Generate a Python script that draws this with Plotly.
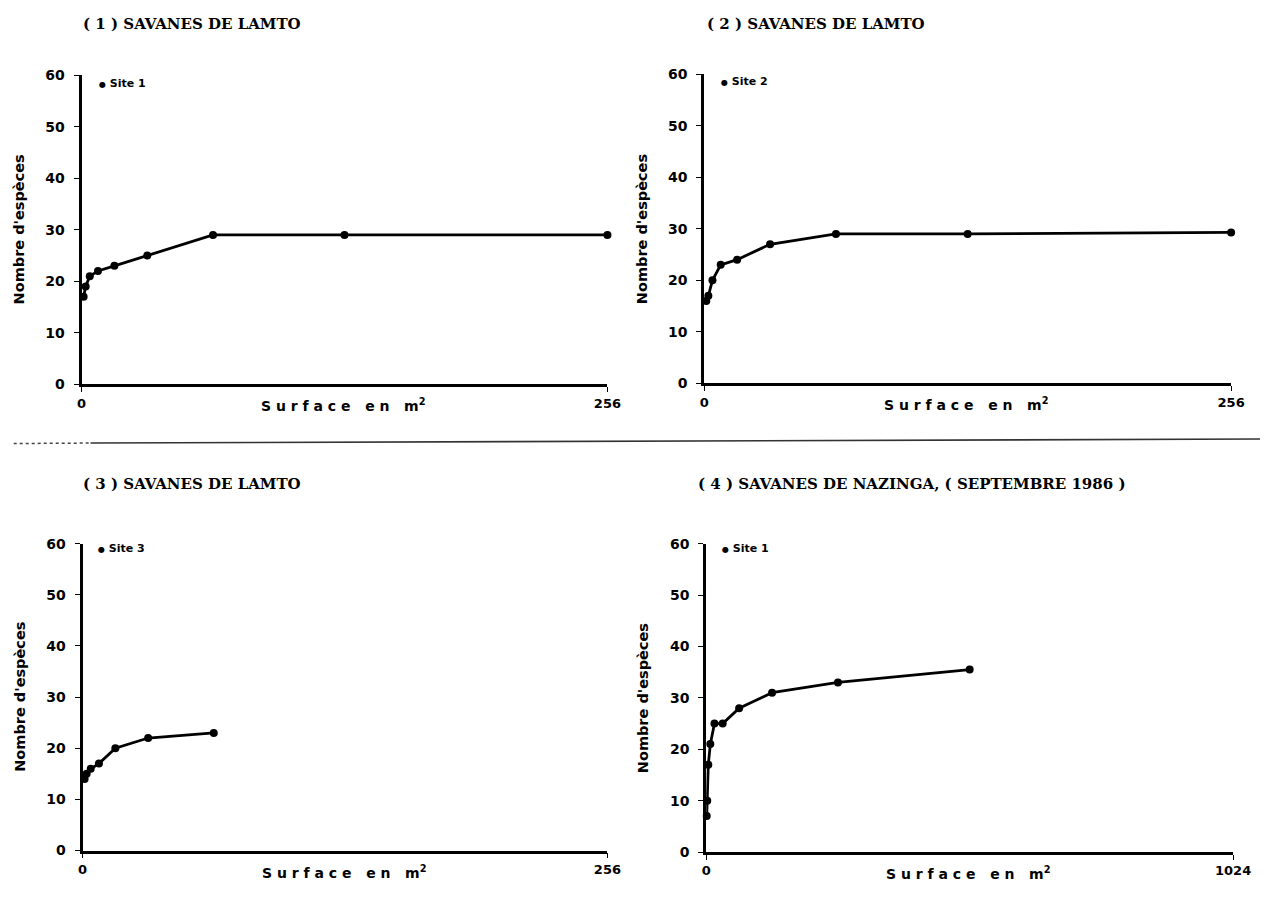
import plotly.graph_objects as go

# ---- data ----
areas_1 = [1, 2, 4, 8, 16, 32, 64, 128, 256]
species_1 = [17, 19, 21, 22, 23, 25, 29, 29, 29]
areas_2 = [1, 2, 4, 8, 16, 32, 64, 128, 256]
species_2 = [16, 17, 20, 23, 24, 27, 29, 29, 29.3]
areas_3 = [1, 2, 4, 8, 16, 32, 64]
species_3 = [14, 15, 16, 17, 20, 22, 23]
areas_4 = [1, 2, 4, 8, 16, 32, 64, 128, 256, 512]
species_4 = [7, 10, 17, 21, 25, 25, 28, 31, 33, 35.5]

titles = ["( 1 ) SAVANES DE LAMTO", "( 2 ) SAVANES DE LAMTO",
          "( 3 ) SAVANES DE LAMTO", "( 4 ) SAVANES DE NAZINGA, ( SEPTEMBRE 1986 )"]
sites = ["Site 1", "Site 2", "Site 3", "Site 1"]
xmax = [256, 256, 256, 1024]
y_ticks = [0, 10, 20, 30, 40, 50, 60]

W, H = 1271, 901
# target pixel boxes in the picture: (x0, x1, y_bottom, y_top)
boxes = [(81, 608, 384, 75), (705, 1233, 383, 74),
         (82, 608, 849.5, 543), (707, 1235, 851, 543)]
title_pos = [(80, 24), (706, 24), (80, 483), (697, 483)]
legend_pos = [(96, 83), (720, 81), (95, 548), (721, 548)]

SX, OX = 0.984, 12.3
SY, OY = 0.981, 16.0


def px(x):
    return ((x - OX) / SX) / W


def py(y):
    return 1 - ((y - OY) / SY) / H


series = [(areas_1, species_1), (areas_2, species_2), (areas_3, species_3), (areas_4, species_4)]

fig = go.Figure()
layout = dict(width=W, height=H, margin=dict(l=0, r=0, t=0, b=0),
              paper_bgcolor="white", plot_bgcolor="white", showlegend=False)
annotations = []
shapes = []
tickfont = dict(family="DejaVu Sans", size=14, color="black")

for i, ((xs, ys), (x0, x1, yb, yt)) in enumerate(zip(series, boxes)):
    n = "" if i == 0 else str(i + 1)
    fig.add_trace(go.Scatter(x=xs, y=ys, mode="lines+markers",
                             xaxis="x" + n, yaxis="y" + n,
                             line=dict(color="black", width=2.8),
                             marker=dict(color="black", size=8),
                             cliponaxis=False))
    layout["xaxis" + n] = dict(domain=[px(x0), px(x1)], range=[0, xmax[i]],
                               anchor="y" + n, showgrid=False, zeroline=False,
                               showline=True, linecolor="black", linewidth=2.5,
                               ticks="outside", ticklen=5, tickwidth=1, tickcolor="black",
                               tickvals=[0, xmax[i]],
                               ticktext=["<b>0</b>", "<b>%d</b>" % xmax[i]],
                               tickfont=dict(family="DejaVu Sans", size=13, color="black"),
                               fixedrange=True)
    layout["yaxis" + n] = dict(domain=[py(yb), py(yt)], range=[0, 60],
                               anchor="x" + n, showgrid=False, zeroline=False,
                               showline=True, linecolor="black", linewidth=3,
                               ticks="outside", ticklen=5, tickwidth=1, tickcolor="black",
                               tickvals=y_ticks,
                               ticktext=["<b>%d</b>" % v for v in y_ticks],
                               tickfont=tickfont,
                               ticklabelstandoff=6, fixedrange=True)
    # panel title
    tx, ty = title_pos[i]
    annotations.append(dict(x=px(tx), y=py(ty), xref="paper", yref="paper",
                            xanchor="left", yanchor="middle", showarrow=False,
                            text="<b>" + titles[i] + "</b>",
                            font=dict(family="DejaVu Serif", size=15, color="black")))
    # legend
    lx, ly = legend_pos[i]
    annotations.append(dict(x=px(lx), y=py(ly), xref="paper", yref="paper",
                            xanchor="left", yanchor="middle", showarrow=False,
                            text="<b><span style='font-size:8px'>\u25CF</span> " + sites[i] + "</b>",
                            font=dict(family="DejaVu Sans", size=11, color="black")))
    # x axis title
    annotations.append(dict(x=px(x0 + 178), y=py(yb + 21), xref="paper", yref="paper",
                            xanchor="left", yanchor="middle", showarrow=False,
                            text="<b>S u r f a c e   e n   m<sup>2</sup></b>",
                            font=dict(family="DejaVu Sans", size=14, color="black")))
    # y axis title
    annotations.append(dict(x=px(x0 - 63), y=py((yb + yt) / 2), xref="paper", yref="paper",
                            xanchor="center", yanchor="middle", showarrow=False,
                            textangle=-90, text="<b>Nombre d'espèces</b>",
                            font=dict(family="DejaVu Sans", size=14.5, color="black")))

# separator line between rows
shapes.append(dict(type="line", xref="paper", yref="paper",
                   x0=px(13), y0=py(443), x1=px(90), y1=py(442.5),
                   line=dict(color="#444", width=1.5, dash="dot")))
shapes.append(dict(type="line", xref="paper", yref="paper",
                   x0=px(90), y0=py(442.5), x1=px(1262), y1=py(438.5),
                   line=dict(color="#333", width=1.6)))

layout["annotations"] = annotations
layout["shapes"] = shapes
fig.update_layout(**layout)
fig.write_html("out.html")
